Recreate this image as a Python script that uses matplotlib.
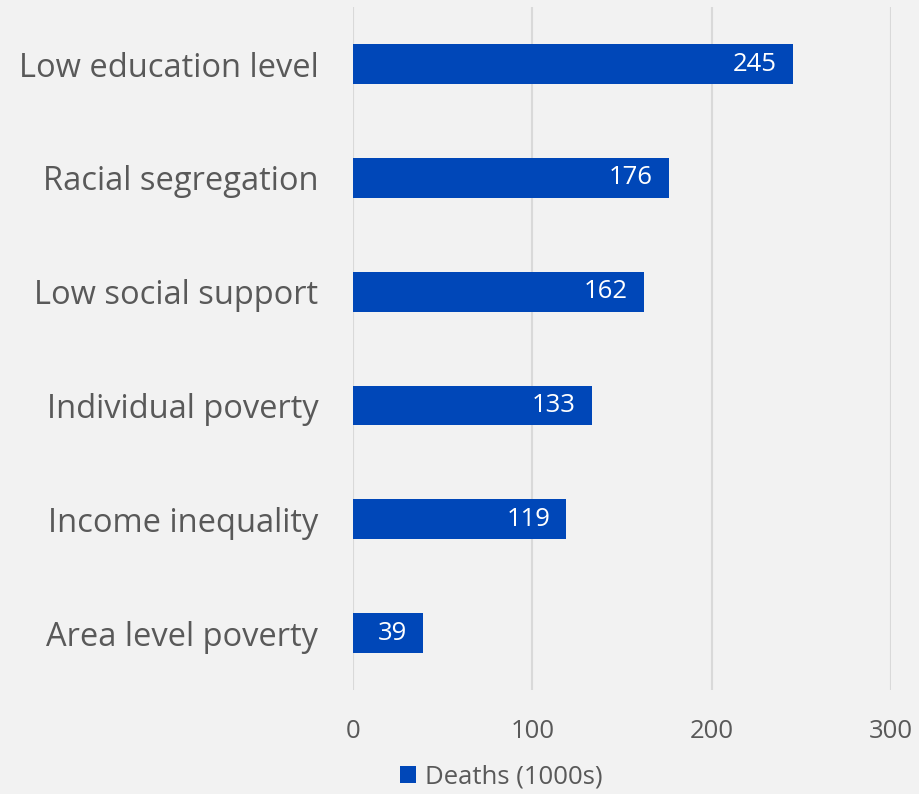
import matplotlib.pyplot as plt

# Data
categories = ['Low education level', 'Racial segregation', 'Low social support',
              'Individual poverty', 'Income inequality', 'Area level poverty']
deaths = [245, 176, 162, 133, 119, 39]
series_name = 'Deaths (1000s)'
xticks = [0, 100, 200, 300]

bar_color = '#0047B8'
text_color = '#595959'
bg = '#F2F2F2'

plt.rcParams['font.family'] = ['Open Sans', 'DejaVu Sans']

fig = plt.figure(figsize=(9.2, 7.94), dpi=100, facecolor=bg)
ax = fig.add_axes([0.3837, 0.131, 0.585, 0.860], facecolor=bg)

ypos = list(range(len(categories)))
bars = ax.barh(ypos, deaths, height=0.35, color=bar_color, label=series_name, zorder=3)
ax.set_ylim(len(categories) - 0.5, -0.5)
ax.set_xlim(0, 300)

# value labels inside bar ends
for y, v in zip(ypos, deaths):
    ax.text(v - 9, y, str(v), color='white', ha='right', va='center', fontsize=18.5, zorder=4)

ax.set_yticks(ypos)
ax.set_yticklabels(categories, fontsize=23.5, color=text_color)
ax.set_xticks(xticks)
ax.set_xticklabels([str(t) for t in xticks], fontsize=18.5, color=text_color)
ax.tick_params(axis='both', length=0)
ax.tick_params(axis='y', pad=25)
ax.tick_params(axis='x', pad=21)

ax.grid(axis='x', color='#D9D9D9', linewidth=1.5, zorder=0)
for s in ax.spines.values():
    s.set_visible(False)

leg = fig.legend(handles=[bars], labels=[series_name], loc='center', bbox_to_anchor=(0.545, 0.021),
                 frameon=False, fontsize=18.5, handlelength=0.65, handleheight=0.65, handletextpad=0.35)
for t in leg.get_texts():
    t.set_color(text_color)

fig.savefig('out.png', dpi=100, facecolor=bg)
